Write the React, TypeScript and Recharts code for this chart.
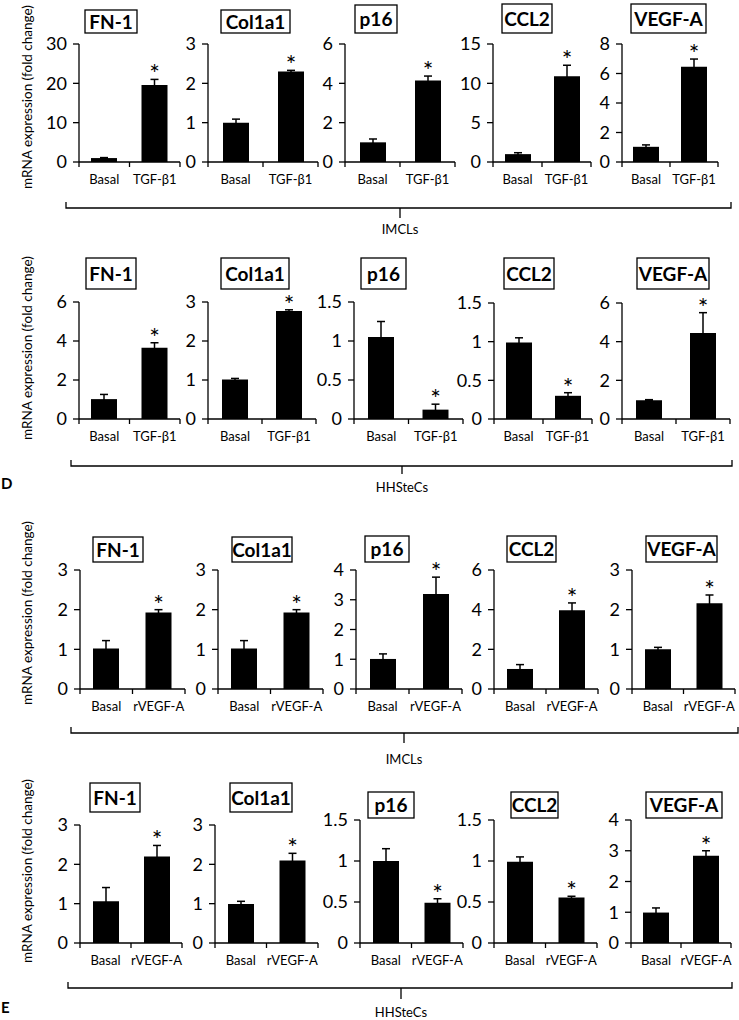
import React from 'react';
import { BarChart, Bar, XAxis, YAxis, ErrorBar, LabelList } from 'recharts';

const FONT = 'Lato, "Open Sans", sans-serif';

const genes = ['FN-1', 'Col1a1', 'p16', 'CCL2', 'VEGF-A'];
const tgfGroups = ['Basal', 'TGF-β1'];
const vegfGroups = ['Basal', 'rVEGF-A'];

// IMCLs, TGF-β1
const imclTgfMean = [[1.0, 19.6], [1.0, 2.3], [1.0, 4.15], [1.0, 10.9], [1.03, 6.45]];
const imclTgfErr = [[0.12, 1.4], [0.09, 0.03], [0.17, 0.22], [0.18, 1.4], [0.13, 0.53]];
const imclTgfTicks = [[0, 10, 20, 30], [0, 1, 2, 3], [0, 2, 4, 6], [0, 5, 10, 15], [0, 2, 4, 6, 8]];

// HHSteCs, TGF-β1
const hhsTgfMean = [[1.02, 3.65], [1.01, 2.77], [1.05, 0.12], [0.99, 0.3], [0.97, 4.45]];
const hhsTgfErr = [[0.24, 0.26], [0.03, 0.03], [0.2, 0.07], [0.06, 0.04], [0.03, 1.05]];
const hhsTgfTicks = [[0, 2, 4, 6], [0, 1, 2, 3], [0, 0.5, 1, 1.5], [0, 0.5, 1, 1.5], [0, 2, 4, 6]];

// IMCLs, rVEGF-A
const imclVegfMean = [[1.02, 1.93], [1.02, 1.93], [1.01, 3.19], [1.01, 3.97], [1.0, 2.16]];
const imclVegfErr = [[0.2, 0.07], [0.2, 0.07], [0.17, 0.57], [0.22, 0.37], [0.05, 0.21]];
const imclVegfTicks = [[0, 1, 2, 3], [0, 1, 2, 3], [0, 1, 2, 3, 4], [0, 2, 4, 6], [0, 1, 2, 3]];

// HHSteCs, rVEGF-A
const hhsVegfMean = [[1.06, 2.2], [0.99, 2.1], [1.0, 0.49], [0.99, 0.555], [0.99, 2.84]];
const hhsVegfErr = [[0.35, 0.28], [0.07, 0.18], [0.15, 0.05], [0.06, 0.015], [0.15, 0.16]];
const hhsVegfTicks = [[0, 1, 2, 3], [0, 1, 2, 3], [0, 0.5, 1, 1.5], [0, 0.5, 1, 1.5], [0, 1, 2, 3, 4]];

const cellLines = ['IMCLs', 'HHSteCs', 'IMCLs', 'HHSteCs'];

// layout (pixels)
const panelX = [
  [[79, 180], [208, 318], [345, 455], [493, 591], [622, 718]],
  [[79, 180], [208, 316], [354, 463], [494, 592], [622, 730]],
  [[80, 185], [218, 323], [356, 462], [494, 598], [632, 735]],
  [[80, 182], [215, 318], [360, 463], [494, 597], [631, 731]],
];
const panelTop = [
  [44, 44, 44, 44, 44],
  [302, 302, 302, 303, 303],
  [570, 570, 570, 570, 570],
  [825, 825, 820, 820, 820],
];
const panelBottom = [162, 419, 689, 943];

const titleX = [
  [[85, 137], [221, 290], [355, 397], [502, 552], [631, 706]],
  [[86, 136], [221, 289], [361, 406], [504, 554], [637, 709]],
  [[93, 143], [232, 292], [365, 409], [507, 556], [646, 717]],
  [[90, 140], [230, 292], [368, 414], [511, 558], [646, 722]],
];
const titleY = [
  [[10, 33], [10, 33], [5, 33], [4, 33], [4, 33]],
  [[258, 289], [258, 289], [258, 289], [258, 289], [258, 289]],
  [[537, 562], [537, 562], [536, 562], [536, 562], [536, 562]],
  [[783, 812], [783, 812], [792, 818], [792, 818], [792, 818]],
];

const brackets = [
  { y: 208, x1: 66, x2: 731, mid: 400, drop: 10, labelY: 234 },
  { y: 466, x1: 71, x2: 732, mid: 402, drop: 8, labelY: 492 },
  { y: 733, x1: 71, x2: 738, mid: 404, drop: 10, labelY: 764 },
  { y: 988, x1: 68, x2: 732, mid: 401, drop: 11, labelY: 1017 },
];
const yLabelCenter = [97, 348, 613, 871];

const rows = [
  { groups: tgfGroups, means: imclTgfMean, errs: imclTgfErr, ticks: imclTgfTicks },
  { groups: tgfGroups, means: hhsTgfMean, errs: hhsTgfErr, ticks: hhsTgfTicks },
  { groups: vegfGroups, means: imclVegfMean, errs: imclVegfErr, ticks: imclVegfTicks },
  { groups: vegfGroups, means: hhsVegfMean, errs: hhsVegfErr, ticks: hhsVegfTicks },
];

const Y_AXIS_W = 44;
const TOP_PAD = 30;
const X_AXIS_H = 32;

function Panel({ r, i }: { r: number; i: number }) {
  const row = rows[r];
  const [ax, ex] = panelX[r][i];
  const top = panelTop[r][i];
  const bottom = panelBottom[r];
  const ticks = row.ticks[i];
  const data = row.groups.map((g, k) => ({
    name: g,
    value: row.means[i][k],
    err: row.errs[i][k],
    star: k === 1,
  }));
  const plotW = ex - ax;
  const band = plotW / 2;
  const width = Y_AXIS_W + plotW + 4;
  const height = TOP_PAD + (bottom - top) + X_AXIS_H;

  const renderTick = (p: any) => {
    const { x, y, payload, index } = p;
    return (
      <g>
        <line x1={x + band / 2} x2={x + band / 2} y1={y} y2={y + 5} stroke="#000" strokeWidth={1.3} />
        {index === 0 && (
          <line x1={x - band / 2} x2={x - band / 2} y1={y} y2={y + 5} stroke="#000" strokeWidth={1.3} />
        )}
        <text x={x} y={y + 22} textAnchor="middle" fontSize={13} fill="#000" fontFamily={FONT}>
          {payload.value}
        </text>
      </g>
    );
  };

  const renderStar = (p: any) => {
    const { x, y, width: w, height: h, value, index } = p;
    if (!data[index].star) return null;
    const errPx = value ? (data[index].err * h) / value : 0;
    return (
      <text x={x + w / 2} y={y - errPx + 4} textAnchor="middle" fontSize={25} fill="#000" fontFamily={FONT}>
        *
      </text>
    );
  };

  return (
    <div style={{ position: 'absolute', left: ax - Y_AXIS_W, top: top - TOP_PAD }}>
      <BarChart
        width={width}
        height={height}
        data={data}
        margin={{ top: TOP_PAD, right: 4, left: 0, bottom: 0 }}
        barSize={26}
      >
        <XAxis
          dataKey="name"
          interval={0}
          height={X_AXIS_H}
          tickSize={0}
          tickMargin={0}
          tickLine={false}
          axisLine={{ stroke: '#000', strokeWidth: 1.3 }}
          tick={renderTick}
        />
        <YAxis
          width={Y_AXIS_W}
          domain={[0, ticks[ticks.length - 1]]}
          ticks={ticks}
          interval={0}
          tickSize={6}
          tickMargin={6}
          axisLine={{ stroke: '#000', strokeWidth: 1.3 }}
          tickLine={{ stroke: '#000', strokeWidth: 1.3 }}
          tick={{ fill: '#000', fontSize: 18, fontFamily: FONT }}
        />
        <Bar dataKey="value" fill="#000" isAnimationActive={false}>
          <ErrorBar dataKey="err" width={4} stroke="#000" strokeWidth={1.5} isAnimationActive={false} />
          <LabelList dataKey="value" content={renderStar} />
        </Bar>
      </BarChart>
    </div>
  );
}

export default function App() {
  return (
    <div
      style={{
        position: 'absolute',
        left: 0,
        top: 0,
        width: 739,
        height: 1020,
        background: '#fff',
        fontFamily: FONT,
      }}
    >
      {rows.map((_, r) => genes.map((_, i) => <Panel key={`${r}-${i}`} r={r} i={i} />))}
      <svg width={739} height={1020} style={{ position: 'absolute', left: 0, top: 0, pointerEvents: 'none' }}>
        {rows.map((_, r) =>
          genes.map((g, i) => {
            const [x1, x2] = titleX[r][i];
            const [y1, y2] = titleY[r][i];
            return (
              <g key={`t-${r}-${i}`}>
                <rect x={x1} y={y1} width={x2 - x1} height={y2 - y1} fill="#fff" stroke="#000" strokeWidth={1.3} />
                <text
                  x={(x1 + x2) / 2}
                  y={(y1 + y2) / 2 + 7}
                  textAnchor="middle"
                  fontSize={19}
                  fontWeight="bold"
                  fill="#000"
                  fontFamily={FONT}
                >
                  {g}
                </text>
              </g>
            );
          })
        )}
        {brackets.map((b, r) => (
          <g key={`b-${r}`} stroke="#000" strokeWidth={1.3} fill="none">
            <polyline points={`${b.x1},${b.y - 6} ${b.x1},${b.y} ${b.x2},${b.y} ${b.x2},${b.y - 6}`} />
            <line x1={b.mid} x2={b.mid} y1={b.y} y2={b.y + b.drop} />
            <text
              x={b.mid}
              y={b.labelY}
              textAnchor="middle"
              fontSize={13}
              fill="#000"
              stroke="none"
              fontFamily={FONT}
            >
              {cellLines[r]}
            </text>
          </g>
        ))}
        {yLabelCenter.map((cy, r) => (
          <text
            key={`yl-${r}`}
            x={0}
            y={0}
            transform={`translate(32, ${cy}) rotate(-90)`}
            textAnchor="middle"
            fontSize={13.5}
            fill="#000"
            fontFamily={FONT}
          >
            mRNA expression (fold change)
          </text>
        ))}
        <text x={1} y={489} fontSize={15} fontWeight="bold" fill="#000" fontFamily={FONT}>
          D
        </text>
        <text x={1} y={1013} fontSize={15} fontWeight="bold" fill="#000" fontFamily={FONT}>
          E
        </text>
      </svg>
    </div>
  );
}
